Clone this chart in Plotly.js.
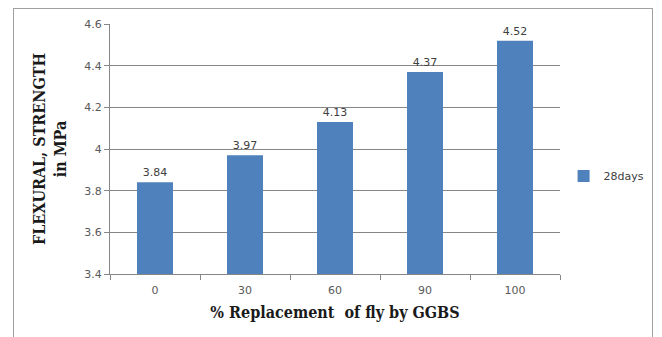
<!DOCTYPE html>
<html>
<head>
<meta charset="utf-8">
<script src="https://cdn.plot.ly/plotly-3.0.1.min.js"></script>
<style>
  html, body { margin: 0; padding: 0; background: #fff; }
  #wrap { position: relative; width: 662px; height: 337px; overflow: hidden; }
  #chart { width: 662px; height: 337px; }
  #frame { position: absolute; left: 13px; top: 8px; width: 638px; height: 345px;
           border: 1px solid #a0a0a0; pointer-events: none; }
</style>
</head>
<body>
<div id="wrap">
  <div id="chart"></div>
  <div id="frame"></div>
</div>
<script>
// Flexural strength at 28 days vs. % replacement of fly ash by GGBS
const categories = ['0', '30', '60', '90', '100'];
const strength28 = [3.84, 3.97, 4.13, 4.37, 4.52];
const yTicks = [3.4, 3.6, 3.8, 4, 4.2, 4.4, 4.6];
const seriesName = '28days';

const trace = {
  type: 'bar',
  x: categories,
  y: strength28,
  name: seriesName,
  marker: { color: '#4f81bd' },
  width: 0.4,
  text: strength28.map(v => v.toFixed(2)),
  textposition: 'outside',
  textfont: { family: 'DejaVu Sans', size: 11, color: '#404040' },
  cliponaxis: false,
  showlegend: true
};

const titleFont = { family: 'DejaVu Serif Condensed', size: 16, color: '#1a1a1a', weight: 'bold' };

const layout = {
  width: 662,
  height: 337,
  margin: { l: 110, r: 102, t: 24, b: 63, autoexpand: false },
  paper_bgcolor: '#ffffff',
  plot_bgcolor: '#ffffff',
  showlegend: true,
  legend: {
    x: 1.008, y: 0.392, xanchor: 'left', yanchor: 'middle',
    font: { family: 'DejaVu Sans', size: 11, color: '#404040' },
    itemwidth: 30
  },
  xaxis: {
    type: 'category',
    tickson: 'boundaries',
    ticks: 'outside',
    ticklen: 5,
    tickcolor: '#868686',
    showline: true,
    linecolor: '#868686',
    showgrid: false,
    ticklabelstandoff: 6,
    tickfont: { family: 'DejaVu Sans', size: 11, color: '#595959' },
    title: {
      text: '% Replacement\u00a0 of fly by GGBS',
      font: titleFont,
      standoff: 10
    }
  },
  yaxis: {
    range: [3.4, 4.6],
    tickvals: yTicks,
    ticktext: yTicks.map(v => String(v)),
    ticks: 'outside',
    ticklen: 5,
    tickcolor: '#868686',
    showline: true,
    linecolor: '#868686',
    showgrid: true,
    gridcolor: '#868686',
    zeroline: false,
    tickfont: { family: 'DejaVu Sans', size: 11, color: '#595959' },
    title: {
      text: 'FLEXURAL, STRENGTH<br>in MPa',
      font: titleFont,
      standoff: 13
    }
  },
  bargap: 0.6
};

Plotly.newPlot('chart', [trace], layout, { displayModeBar: false, staticPlot: true });
</script>
</body>
</html>
